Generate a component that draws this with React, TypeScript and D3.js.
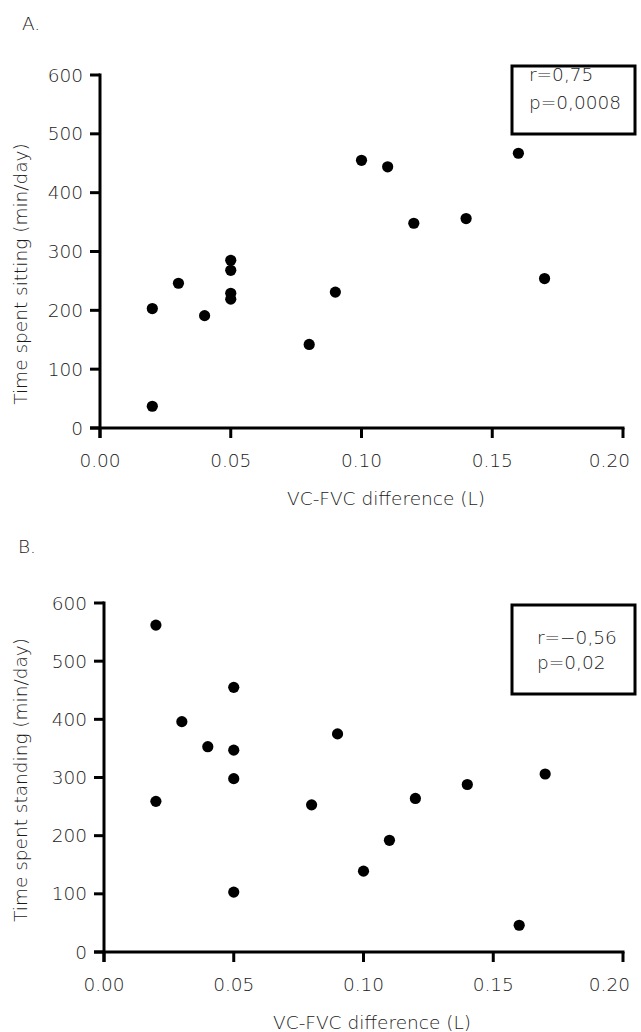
import React from "react";
import * as d3 from "d3";

const xValues = [0.02, 0.02, 0.03, 0.04, 0.05, 0.05, 0.05, 0.05, 0.08, 0.09, 0.10, 0.11, 0.12, 0.14, 0.16, 0.17];
const sitting = [203, 37, 246, 191, 285, 268, 229, 219, 142, 231, 455, 444, 348, 356, 467, 254];
const xValuesB = [0.02, 0.02, 0.03, 0.04, 0.05, 0.05, 0.05, 0.05, 0.08, 0.09, 0.10, 0.11, 0.12, 0.14, 0.16, 0.17];
const standing = [562, 259, 396, 353, 455, 347, 298, 103, 253, 375, 139, 192, 264, 288, 46, 306];
const xTicks = [0, 0.05, 0.1, 0.15, 0.2];
const yTicks = [0, 100, 200, 300, 400, 500, 600];

const FONT = "'DejaVu Sans', sans-serif";
const TXT = "#1a1a1a";
const FS = 18.5;

type PanelProps = {
  label: string;
  labelX: number;
  labelY: number;
  left: number;
  right: number;
  top: number;
  bottom: number;
  xs: number[];
  ys: number[];
  yTitle: string;
  yTitleCenter: number;
  xTitleCenter: number;
  stats: string[];
  box: { x0: number; x1: number; y0: number; y1: number; tx: number; ty: number; dy: number };
};

function Panel(p: PanelProps) {
  const x = d3.scaleLinear().domain([0, 0.2]).range([p.left, p.right]);
  const y = d3.scaleLinear().domain([0, 600]).range([p.bottom, p.top]);
  const tickLen = 10;
  return (
    <g fontFamily={FONT} fontWeight={200} fill={TXT}>
      <text x={p.labelX} y={p.labelY} fontSize={FS}>{p.label}</text>
      <line x1={p.left} x2={p.left} y1={p.top - 1.5} y2={p.bottom + tickLen} stroke="#000" strokeWidth={3} />
      <line x1={p.left - tickLen} x2={p.right + 1.5} y1={p.bottom} y2={p.bottom} stroke="#000" strokeWidth={3} />
      {yTicks.map((t) => (
        <g key={"y" + t}>
          <line x1={p.left - tickLen} x2={p.left} y1={y(t)} y2={y(t)} stroke="#000" strokeWidth={3} />
          <text x={p.left - 17} y={y(t)} dy="0.36em" textAnchor="end" fontSize={FS}>{t}</text>
        </g>
      ))}
      {xTicks.map((t, i) => {
        const last = i === xTicks.length - 1;
        return (
          <g key={"x" + t}>
            <line x1={x(t)} x2={x(t)} y1={p.bottom} y2={p.bottom + tickLen} stroke="#000" strokeWidth={3} />
            <text
              x={last ? 630 : x(t)}
              y={p.bottom + 32}
              dy="0.36em"
              textAnchor={last ? "end" : "middle"}
              fontSize={FS}
            >
              {t.toFixed(2)}
            </text>
          </g>
        );
      })}
      <text x={p.xTitleCenter} y={p.bottom + 70} dy="0.36em" textAnchor="middle" fontSize={FS}>
        VC-FVC difference (L)
      </text>
      <text
        transform={`translate(20,${p.yTitleCenter}) rotate(-90)`}
        dy="0.36em"
        textAnchor="middle"
        fontSize={FS}
      >
        {p.yTitle}
      </text>
      <rect
        x={p.box.x0}
        y={p.box.y0}
        width={p.box.x1 - p.box.x0}
        height={p.box.y1 - p.box.y0}
        fill="#fff"
        stroke="#000"
        strokeWidth={3}
      />
      {p.stats.map((s, i) => (
        <text key={s} x={p.box.tx} y={p.box.ty + i * p.box.dy} fontSize={FS}>{s}</text>
      ))}
      {p.xs.map((v, i) => (
        <circle key={i} cx={x(v)} cy={y(p.ys[i])} r={5.6} fill="#000" />
      ))}
    </g>
  );
}

export default function App() {
  return (
    <svg
      width={641}
      height={1032}
      style={{ position: "absolute", left: 0, top: 0, background: "#fff" }}
    >
      <rect width={641} height={1032} fill="#fff" />
      <Panel
        label="A."
        labelX={22}
        labelY={30}
        left={100}
        right={623}
        top={75}
        bottom={428}
        xs={xValues}
        ys={sitting}
        yTitle="Time spent sitting (min/day)"
        yTitleCenter={274}
        xTitleCenter={386}
        stats={["r=0,75", "p=0,0008"]}
        box={{ x0: 512, x1: 635, y0: 66, y1: 134, tx: 529, ty: 81, dy: 28 }}
      />
      <Panel
        label="B."
        labelX={18}
        labelY={553}
        left={104}
        right={623}
        top={603}
        bottom={952}
        xs={xValuesB}
        ys={standing}
        yTitle="Time spent standing (min/day)"
        yTitleCenter={780}
        xTitleCenter={372}
        stats={["r=\u22120,56", "p=0,02"]}
        box={{ x0: 512, x1: 635, y0: 605, y1: 694, tx: 537, ty: 644, dy: 25 }}
      />
    </svg>
  );
}
